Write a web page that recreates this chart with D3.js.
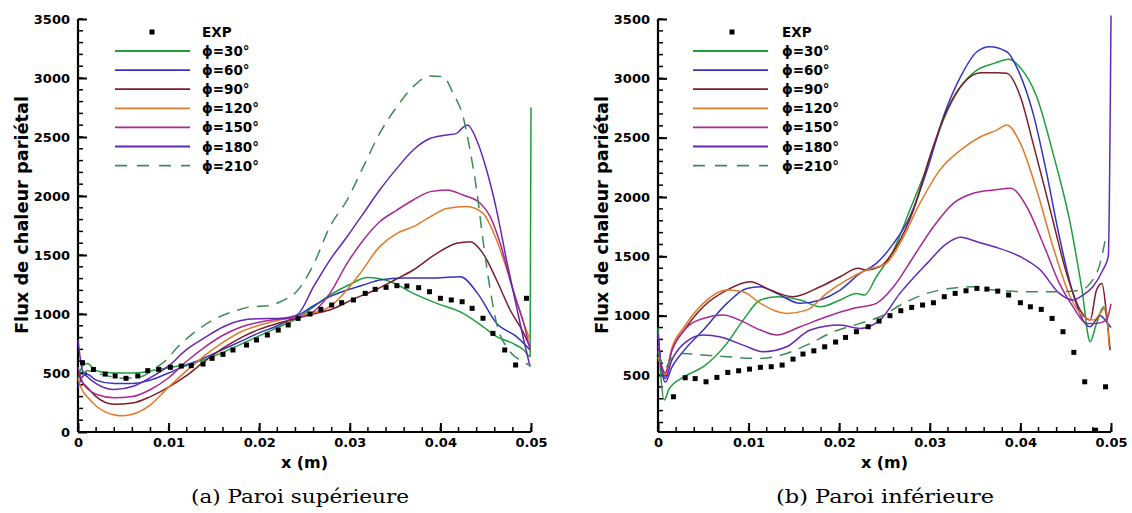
<!DOCTYPE html>
<html><head><meta charset="utf-8">
<script src="https://cdn.jsdelivr.net/npm/d3@7"></script>
<style>body{margin:0;background:#fff}svg{display:block}</style>
</head><body>
<svg id="c" width="1132" height="513"></svg>
<script>
const seriesNames = ["ϕ=30°","ϕ=60°","ϕ=90°","ϕ=120°","ϕ=150°","ϕ=180°","ϕ=210°"];
const seriesColors = ["#1f9e3c","#3434c4","#7e1c28","#e07a2a","#a82894","#6428b8","#3c8a58"];
const xTicks = [0,0.01,0.02,0.03,0.04,0.05];
const yTicksSup = [0,500,1000,1500,2000,2500,3000,3500];
const yTicksInf = [500,1000,1500,2000,2500,3000,3500];
const captions = ["(a) Paroi supérieure","(b) Paroi inférieure"];

// Paroi supérieure (upper wall)
const sup30 = [[0,450],[0.0005,560],[0.001,580],[0.002,520],[0.003,505],[0.005,500],[0.007,505],[0.0085,525],[0.01,545],[0.012,572],[0.014,615],[0.016,675],[0.018,745],[0.02,815],[0.022,885],[0.024,955],[0.026,1060],[0.0278,1160],[0.03,1250],[0.0319,1310],[0.0345,1274],[0.037,1175],[0.0396,1090],[0.0425,1006],[0.0447,893],[0.0462,808],[0.048,751],[0.0492,695],[0.0499,640],[0.05,2750]];
const sup60 = [[0,380],[0.0005,470],[0.001,490],[0.002,440],[0.004,410],[0.006,410],[0.008,440],[0.01,500],[0.012,565],[0.014,630],[0.016,700],[0.018,770],[0.02,840],[0.022,900],[0.024,975],[0.026,1070],[0.0278,1147],[0.0315,1246],[0.0333,1288],[0.036,1305],[0.0395,1305],[0.0422,1316],[0.0441,1175],[0.0462,921],[0.0484,808],[0.0499,695]];
const sup90 = [[0,500],[0.0005,420],[0.001,380],[0.002,300],[0.004,235],[0.006,245],[0.008,300],[0.01,380],[0.012,480],[0.014,600],[0.016,710],[0.018,800],[0.02,870],[0.022,920],[0.024,960],[0.026,1000],[0.028,1040],[0.0305,1130],[0.033,1210],[0.035,1290],[0.037,1373],[0.0396,1514],[0.0418,1599],[0.0433,1613],[0.0447,1514],[0.0462,1288],[0.0477,1034],[0.0492,836],[0.0499,720]];
const sup120 = [[0,450],[0.0005,350],[0.001,300],[0.002,220],[0.003,170],[0.004,145],[0.005,138],[0.006,150],[0.008,230],[0.01,380],[0.012,520],[0.014,650],[0.016,760],[0.018,850],[0.02,905],[0.022,945],[0.024,975],[0.026,1010],[0.0278,1062],[0.029,1147],[0.031,1330],[0.0333,1571],[0.0352,1684],[0.037,1740],[0.0389,1825],[0.0407,1895],[0.0429,1910],[0.0447,1853],[0.0462,1627],[0.0477,1288],[0.0492,921],[0.0499,780]];
const sup150 = [[0,550],[0.0005,420],[0.001,370],[0.002,320],[0.004,290],[0.006,300],[0.008,360],[0.01,460],[0.012,600],[0.014,720],[0.016,820],[0.018,890],[0.02,930],[0.022,955],[0.0245,975],[0.0256,1000],[0.0278,1175],[0.0297,1429],[0.0315,1627],[0.0333,1782],[0.0352,1881],[0.037,1966],[0.0389,2037],[0.0407,2051],[0.0425,2008],[0.0444,1938],[0.0455,1825],[0.0466,1599],[0.048,1203],[0.0492,921],[0.0499,695]];
const sup180 = [[0,780],[0.0005,520],[0.001,470],[0.002,410],[0.004,360],[0.006,385],[0.0075,440],[0.01,560],[0.012,700],[0.014,800],[0.016,890],[0.018,945],[0.02,960],[0.022,962],[0.0235,975],[0.0243,1000],[0.026,1231],[0.0278,1457],[0.0297,1655],[0.0315,1853],[0.0333,2051],[0.0352,2234],[0.037,2390],[0.0389,2489],[0.0407,2517],[0.0418,2531],[0.0425,2582],[0.043,2602],[0.044,2475],[0.0451,2220],[0.0462,1881],[0.0473,1457],[0.0484,1062],[0.0492,780],[0.0499,554]];
const sup210 = [[0.0005,480],[0.001,520],[0.003,480],[0.005,455],[0.007,470],[0.0085,540],[0.0096,600],[0.011,720],[0.0127,836],[0.0149,949],[0.0171,1020],[0.019,1060],[0.021,1070],[0.0225,1110],[0.024,1180],[0.026,1420],[0.0278,1740],[0.0297,1966],[0.0315,2249],[0.0333,2531],[0.0352,2757],[0.037,2927],[0.0389,3017],[0.0403,3011],[0.0414,2870],[0.0425,2672],[0.0432,2418],[0.044,2051],[0.0447,1627],[0.0455,1203],[0.0462,921],[0.0475,700],[0.049,600],[0.05,560]];
const supExp = [[0.0005,587],[0.0017,530],[0.003,491],[0.0041,475],[0.0053,455],[0.0066,475],[0.0077,520],[0.0089,531],[0.0102,548],[0.0114,559],[0.0125,562],[0.0138,576],[0.0148,624],[0.016,658],[0.0171,695],[0.0186,737],[0.0197,780],[0.0209,822],[0.0221,864],[0.0232,907],[0.0243,963],[0.0256,1000],[0.0268,1040],[0.028,1076],[0.0291,1096],[0.0304,1119],[0.0317,1175],[0.0328,1209],[0.034,1226],[0.0352,1240],[0.0363,1237],[0.0376,1223],[0.0388,1189],[0.04,1133],[0.0412,1119],[0.0424,1104],[0.0435,1048],[0.0447,964],[0.0458,836],[0.0471,695],[0.0483,568],[0.0495,1133]];

// Paroi inférieure (lower wall)
const inf30 = [[0,900],[0.0003,500],[0.0007,290],[0.0012,380],[0.0029,486],[0.005,570],[0.0076,767],[0.0094,963],[0.0113,1132],[0.0131,1160],[0.0157,1132],[0.0179,1076],[0.0201,1132],[0.0219,1188],[0.0228,1174],[0.0241,1328],[0.026,1553],[0.0278,1890],[0.0297,2255],[0.0315,2649],[0.0334,2929],[0.0352,3070],[0.0371,3126],[0.0387,3160],[0.0399,3098],[0.0418,2845],[0.0436,2368],[0.0455,1778],[0.0468,1216],[0.0477,781],[0.0484,935],[0.0492,1076],[0.0497,879]];
const inf60 = [[0,850],[0.0004,550],[0.0008,440],[0.0015,560],[0.0029,710],[0.005,879],[0.0076,1104],[0.0098,1230],[0.0113,1244],[0.0131,1188],[0.0157,1104],[0.0179,1132],[0.0201,1216],[0.0223,1356],[0.0241,1441],[0.026,1609],[0.0278,1834],[0.0297,2227],[0.0315,2677],[0.0334,3014],[0.0352,3224],[0.0366,3267],[0.0385,3224],[0.0399,3042],[0.0414,2705],[0.0429,2199],[0.0443,1665],[0.0458,1188],[0.0469,963],[0.0477,907],[0.0488,1000],[0.0495,950],[0.05,900]];
const inf90 = [[0,700],[0.0004,560],[0.0008,500],[0.0015,700],[0.0029,879],[0.005,1076],[0.0076,1216],[0.0102,1286],[0.0124,1216],[0.0149,1160],[0.0179,1244],[0.0201,1328],[0.0221,1399],[0.023,1385],[0.0245,1413],[0.0263,1581],[0.0282,1890],[0.03,2340],[0.0319,2733],[0.0337,2958],[0.0356,3047],[0.0374,3047],[0.0385,3042],[0.04,2845],[0.0414,2452],[0.0433,1890],[0.0451,1356],[0.0466,1047],[0.0477,963],[0.0484,1216],[0.049,1272],[0.0495,1019],[0.0499,710]];
const inf120 = [[0,650],[0.0004,560],[0.0008,500],[0.0015,720],[0.0029,907],[0.005,1104],[0.0076,1216],[0.0094,1202],[0.0113,1104],[0.0142,1019],[0.0164,1047],[0.0186,1188],[0.0208,1300],[0.023,1385],[0.0252,1441],[0.0267,1609],[0.0289,1946],[0.0311,2227],[0.0334,2396],[0.0356,2508],[0.0374,2564],[0.0385,2606],[0.04,2452],[0.0418,2059],[0.0436,1581],[0.0455,1160],[0.047,991],[0.0481,963],[0.0488,1019],[0.0494,1076],[0.0498,738]];
const inf150 = [[0,750],[0.0004,580],[0.0008,520],[0.0015,700],[0.0029,879],[0.005,977],[0.0072,1005],[0.009,963],[0.0113,879],[0.0131,837],[0.0157,907],[0.0186,991],[0.0216,1062],[0.0241,1104],[0.026,1244],[0.0282,1497],[0.0304,1750],[0.0326,1946],[0.0348,2031],[0.0371,2059],[0.0389,2073],[0.0407,1918],[0.0425,1609],[0.0443,1272],[0.0458,1076],[0.0473,935],[0.0484,935],[0.0495,963],[0.05,1100]];
const inf180 = [[0,850],[0.0004,550],[0.0008,470],[0.0015,620],[0.0029,767],[0.005,837],[0.0068,823],[0.0094,752],[0.0116,696],[0.0142,738],[0.0168,879],[0.0201,921],[0.0223,893],[0.0245,963],[0.0267,1188],[0.0297,1441],[0.0319,1609],[0.0334,1660],[0.0352,1623],[0.0371,1581],[0.04,1497],[0.0422,1385],[0.0443,1188],[0.0458,1132],[0.0469,1174],[0.048,1244],[0.0491,1385],[0.0497,1497],[0.05,3530]];
const inf210 = [[0,700],[0.0004,600],[0.0008,560],[0.0015,640],[0.0029,682],[0.005,668],[0.0076,654],[0.0113,640],[0.0142,682],[0.0164,752],[0.0194,865],[0.0223,935],[0.0245,991],[0.0271,1104],[0.0297,1188],[0.0322,1230],[0.0348,1244],[0.0371,1216],[0.0407,1202],[0.0443,1202],[0.0466,1216],[0.0477,1272],[0.0488,1441],[0.0495,1694]];
const infExp = [[0.0017,317],[0.003,477],[0.0041,470],[0.0053,443],[0.0065,480],[0.0077,522],[0.0089,536],[0.0101,550],[0.0113,565],[0.0125,570],[0.0137,584],[0.0149,634],[0.016,677],[0.0172,704],[0.0184,738],[0.0196,778],[0.0207,817],[0.0219,865],[0.0232,907],[0.0244,955],[0.0256,1000],[0.0268,1042],[0.028,1070],[0.0292,1090],[0.0304,1109],[0.0316,1160],[0.0328,1188],[0.034,1210],[0.0352,1230],[0.0363,1224],[0.0375,1207],[0.0387,1174],[0.04,1109],[0.0411,1075],[0.0423,1053],[0.0435,977],[0.0447,865],[0.0459,691],[0.0471,443],[0.0483,35],[0.0494,401]];

const panels = [
  {x0:78, x1:531, yDom:[0,3500], yTicks:yTicksSup, series:[sup30,sup60,sup90,sup120,sup150,sup180,sup210], exp:supExp, leg:{sq:152, l0:115, l1:190, tx:202}, cap:captions[0], capX:300, yl:28},
  {x0:658, x1:1111, yDom:[20,3500], yTicks:yTicksInf, series:[inf30,inf60,inf90,inf120,inf150,inf180,inf210], exp:infExp, leg:{sq:732, l0:693, l1:768, tx:782}, cap:captions[1], capX:885, yl:608}
];

const svg = d3.select("#c");
svg.append("rect").attr("width",1132).attr("height",513).attr("fill","#fff");
const yTop = 19, yBot = 432;
const sansFont = "DejaVu Sans, sans-serif";

panels.forEach(p => {
  const x = d3.scaleLinear().domain([0,0.05]).range([p.x0,p.x1]);
  const y = d3.scaleLinear().domain(p.yDom).range([yBot,yTop]);
  const g = svg.append("g");

  // minor ticks
  const xMinor = d3.range(0,0.0501,0.002);
  g.selectAll(".xm").data(xMinor).join("line")
    .attr("x1",d=>x(d)).attr("x2",d=>x(d)).attr("y1",yBot).attr("y2",yBot-5)
    .attr("stroke","#000").attr("stroke-width",1.5);
  const yMinor = d3.range(100,3501,100).filter(v=>v>=p.yDom[0]);
  g.selectAll(".ym").data(yMinor).join("line")
    .attr("x1",p.x0).attr("x2",p.x0+5).attr("y1",d=>y(d)).attr("y2",d=>y(d))
    .attr("stroke","#000").attr("stroke-width",1.5);

  const xa = g.append("g").attr("transform",`translate(0,${yBot})`)
    .call(d3.axisBottom(x).tickValues(xTicks).tickSize(-9).tickPadding(6).tickSizeOuter(0)
      .tickFormat(d=> d===0 ? "0" : d3.format(".2f")(d)));
  const ya = g.append("g").attr("transform",`translate(${p.x0},0)`)
    .call(d3.axisLeft(y).tickValues(p.yTicks).tickSize(-9).tickPadding(8).tickSizeOuter(0)
      .tickFormat(d3.format("d")));
  [xa,ya].forEach(a=>{
    a.select(".domain").attr("stroke","#000").attr("stroke-width",2.2);
    a.selectAll(".tick line").attr("stroke","#000").attr("stroke-width",2);
    a.selectAll("text").attr("font-family",sansFont).attr("font-weight","bold").attr("font-size",13).attr("fill","#000");
  });
  ya.select(".domain").attr("d",`M0,${yBot}V${yTop}`);
  xa.select(".domain").attr("d",`M${p.x0},0H${p.x1}`);

  // curves
  const line = d3.line().curve(d3.curveMonotoneX)
    .x(d=>x(d[0])).y(d=>y(Math.max(d[1],p.yDom[0])));
  p.series.forEach((s,i)=>{
    g.append("path").datum(s).attr("d",line).attr("fill","none")
      .attr("stroke",seriesColors[i]).attr("stroke-width",1.5)
      .attr("stroke-linejoin","round")
      .attr("stroke-dasharray", i===6 ? "12,8" : null);
  });
  g.selectAll(".exp").data(p.exp).join("rect")
    .attr("x",d=>x(d[0])-2.5).attr("y",d=>y(Math.max(d[1],p.yDom[0]))-2.5)
    .attr("width",5).attr("height",5).attr("fill","#000");

  // legend
  const L = p.leg;
  g.append("rect").attr("x",L.sq-2.5).attr("y",32-2.5).attr("width",5).attr("height",5).attr("fill","#000");
  g.append("text").attr("x",L.tx).attr("y",37).text("EXP")
    .attr("font-family",sansFont).attr("font-weight","bold").attr("font-size",13.5);
  seriesNames.forEach((n,i)=>{
    const yy = 51 + i*19.1;
    g.append("line").attr("x1",L.l0).attr("x2",L.l1).attr("y1",yy).attr("y2",yy)
      .attr("stroke",seriesColors[i]).attr("stroke-width",1.8)
      .attr("stroke-dasharray", i===6 ? "12,10" : null);
    g.append("text").attr("x",L.tx).attr("y",yy+5).text(n)
      .attr("font-family",sansFont).attr("font-weight","bold").attr("font-size",13.5);
  });

  // axis titles
  g.append("text").attr("transform",`translate(${p.yl},215) rotate(-90)`)
    .attr("text-anchor","middle").text("Flux de chaleur pariétal")
    .attr("font-family",sansFont).attr("font-weight","bold").attr("font-size",17)
    .attr("textLength",238).attr("lengthAdjust","spacingAndGlyphs");
  g.append("text").attr("x",(p.x0+p.x1)/2).attr("y",468).attr("text-anchor","middle").text("x (m)")
    .attr("font-family",sansFont).attr("font-weight","bold").attr("font-size",16);
  g.append("text").attr("x",p.capX).attr("y",503).attr("text-anchor","middle").text(p.cap)
    .attr("font-family","DejaVu Serif, serif").attr("font-size",19)
    .attr("textLength",218).attr("lengthAdjust","spacingAndGlyphs");
});
</script>
</body></html>
